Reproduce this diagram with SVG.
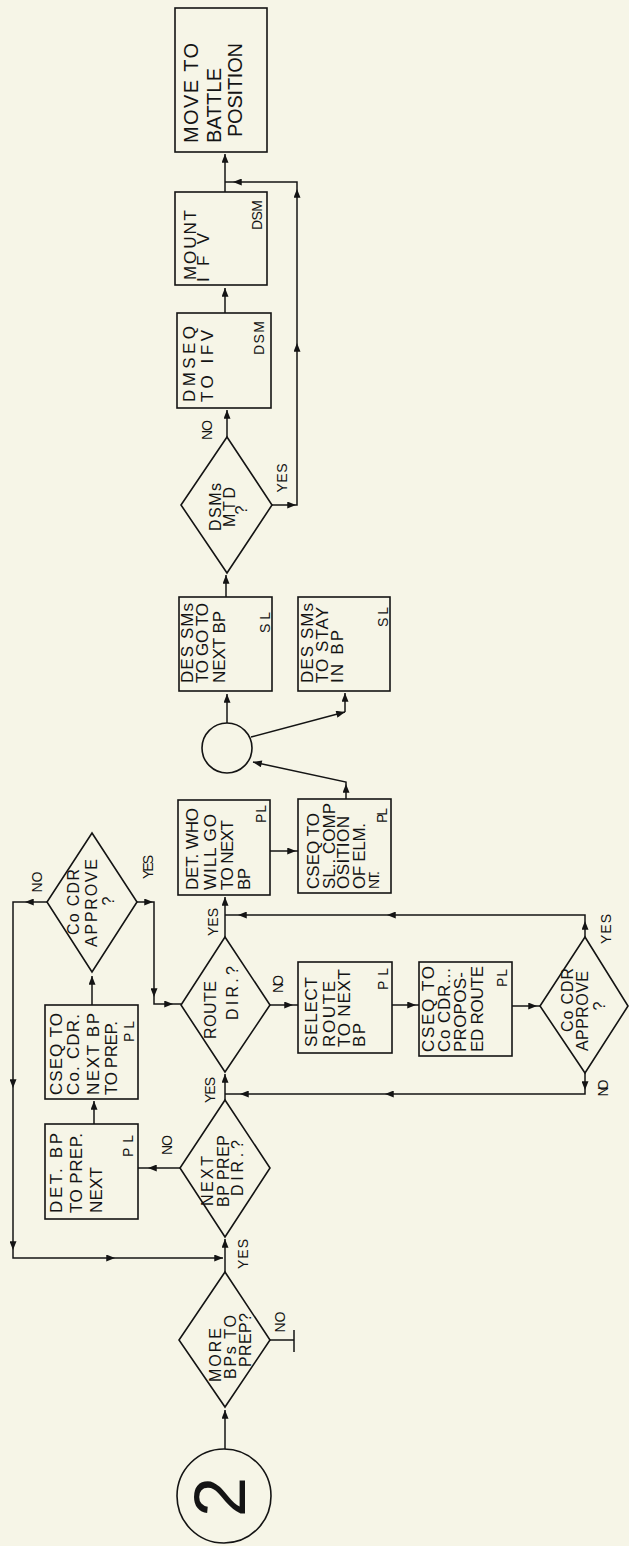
<svg xmlns="http://www.w3.org/2000/svg" width="629" height="1546" viewBox="0 0 629 1546">
<style>
.bg{fill:#f6f5e7}
.box{fill:none;stroke:#141414;stroke-width:1.6}
.ln{fill:none;stroke:#141414;stroke-width:1.5}
.t{font-family:'Liberation Sans',Arial,sans-serif;font-size:17px;fill:#141414}
.big{font-size:20px}
.s{font-size:14px}
.lb{font-size:14px;text-anchor:middle}
.m{text-anchor:middle;font-size:16px}
</style>
<defs>
<marker id="ah" viewBox="0 0 10 8" refX="10" refY="4" markerWidth="10" markerHeight="7" markerUnits="userSpaceOnUse" orient="auto"><path d="M0,0 L10,4 L0,8 z" fill="#141414"/></marker>
</defs>
<rect class="bg" x="0" y="0" width="629" height="1546"/>

<g id="connectors">
<path class="ln" d="M225,1449 V1410" marker-end="url(#ah)"/>
<path class="ln" d="M270,1340 H294 M294,1330 V1352"/>
<path class="ln" d="M225,1272 V1239" marker-end="url(#ah)"/>
<path class="ln" d="M47,902 H25" marker-end="url(#ah)"/>
<path class="ln" d="M25,902 H13 V1088" marker-end="url(#ah)"/>
<path class="ln" d="M13,1088 V1250" marker-end="url(#ah)"/>
<path class="ln" d="M13,1250 V1258 H115" marker-end="url(#ah)"/>
<path class="ln" d="M115,1258 H223" marker-end="url(#ah)"/>
<path class="ln" d="M180,1168 H148" marker-end="url(#ah)"/>
<path class="ln" d="M148,1168 H138"/>
<path class="ln" d="M94,1124 V1101" marker-end="url(#ah)"/>
<path class="ln" d="M92,1005 V976" marker-end="url(#ah)"/>
<path class="ln" d="M137,902 H153" marker-end="url(#ah)"/>
<path class="ln" d="M153,902 H154 V997" marker-end="url(#ah)"/>
<path class="ln" d="M154,997 V1004 H173" marker-end="url(#ah)"/>
<path class="ln" d="M173,1004 H181"/>
<path class="ln" d="M225,1100 V1074" marker-end="url(#ah)"/>
<path class="ln" d="M225,937 V897" marker-end="url(#ah)"/>
<path class="ln" d="M270,1005 H293" marker-end="url(#ah)"/>
<path class="ln" d="M293,1005 H298"/>
<path class="ln" d="M392,1005 H416" marker-end="url(#ah)"/>
<path class="ln" d="M416,1005 H419"/>
<path class="ln" d="M512,1006 H537" marker-end="url(#ah)"/>
<path class="ln" d="M537,1006 H540"/>
<path class="ln" d="M585,937 V921" marker-end="url(#ah)"/>
<path class="ln" d="M585,921 V915 H387" marker-end="url(#ah)"/>
<path class="ln" d="M387,915 H238" marker-end="url(#ah)"/>
<path class="ln" d="M238,915 H225"/>
<path class="ln" d="M585,1073 V1090" marker-end="url(#ah)"/>
<path class="ln" d="M585,1090 V1094 H385" marker-end="url(#ah)"/>
<path class="ln" d="M385,1094 H240" marker-end="url(#ah)"/>
<path class="ln" d="M240,1094 H225"/>
<path class="ln" d="M270,851 H296" marker-end="url(#ah)"/>
<path class="ln" d="M296,851 H298"/>
<path class="ln" d="M346,799 V784" marker-end="url(#ah)"/>
<path class="ln" d="M346,784 V782 L253,762" marker-end="url(#ah)"/>
<path class="ln" d="M251,737 L345,712" marker-end="url(#ah)"/>
<path class="ln" d="M345,712 V693" marker-end="url(#ah)"/>
<path class="ln" d="M227,723 V694" marker-end="url(#ah)"/>
<path class="ln" d="M226,597 V575" marker-end="url(#ah)"/>
<path class="ln" d="M227,437 V410" marker-end="url(#ah)"/>
<path class="ln" d="M272,505 H296" marker-end="url(#ah)"/>
<path class="ln" d="M296,505 H297 V343" marker-end="url(#ah)"/>
<path class="ln" d="M297,343 V189" marker-end="url(#ah)"/>
<path class="ln" d="M297,189 V182 H233" marker-end="url(#ah)"/>
<path class="ln" d="M233,182 H225"/>
<path class="ln" d="M225,313 V288" marker-end="url(#ah)"/>
<path class="ln" d="M225,192 V154" marker-end="url(#ah)"/>
</g>

<g id="labels">
<text class="t lb" transform="translate(285,1322) rotate(-90)" textLength="21">NO</text>
<text class="t lb" transform="translate(248,1254) rotate(-90)" textLength="30">YES</text>
<text class="t lb" transform="translate(172,1145) rotate(-90)" textLength="20">NO</text>
<text class="t lb" transform="translate(215,1090) rotate(-90)" textLength="26">YES</text>
<text class="t lb" transform="translate(42,882) rotate(-90)" textLength="21">NO</text>
<text class="t lb" transform="translate(153,867) rotate(-90)" textLength="24">YES</text>
<text class="t lb" transform="translate(218,922) rotate(-90)" textLength="28">YES</text>
<text class="t lb" transform="translate(283,984) rotate(-90)" textLength="18">NO</text>
<text class="t lb" transform="translate(611,929) rotate(-90)" textLength="30">YES</text>
<text class="t lb" transform="translate(608,1088) rotate(-90)" textLength="17">NO</text>
<text class="t lb" transform="translate(212,430) rotate(-90)" textLength="20">NO</text>
<text class="t lb" transform="translate(287,478) rotate(-90)" textLength="29">YES</text>
</g>

<g id="start">
<circle class="box" cx="224" cy="1496" r="47"/>
<text class="t" style="font-size:72px;text-anchor:middle" transform="translate(245,1497) rotate(-90)">2</text>
</g>

<g id="more-bps">
<polygon class="box" points="225,1272 270,1340 225,1407 179,1340"/>
<text class="t m" transform="translate(221,1355) rotate(-90)" textLength="54">MORE</text>
<text class="t m" transform="translate(236,1347) rotate(-90)" textLength="64">BPs TO</text>
<text class="t m" transform="translate(251,1340) rotate(-90)" textLength="54">PREP?</text>
</g>

<g id="next-bp-dir">
<polygon class="box" points="225,1100 270,1168 225,1237 180,1168"/>
<text class="t m" transform="translate(213,1181) rotate(-90)" textLength="50">NEXT</text>
<text class="t m" transform="translate(229,1171) rotate(-90)" textLength="72">BP PREP</text>
<text class="t m" transform="translate(243,1168) rotate(-90)" textLength="56">DIR.?</text>
</g>

<g id="det-bp">
<rect class="box" x="45" y="1124" width="93" height="95"/>
<text class="t" transform="translate(62,1213) rotate(-90)" textLength="80">DET. BP</text>
<text class="t" transform="translate(82,1213) rotate(-90)" textLength="80">TO PREP.</text>
<text class="t" transform="translate(102,1213) rotate(-90)" textLength="46">NEXT</text>
<text class="t s" transform="translate(133,1157) rotate(-90)" textLength="22">PL</text>
</g>

<g id="cseq-next-bp">
<rect class="box" x="45" y="1005" width="93" height="94"/>
<text class="t" transform="translate(62,1095) rotate(-90)" textLength="82">CSEQ TO</text>
<text class="t" transform="translate(79,1095) rotate(-90)" textLength="81">Co. CDR.</text>
<text class="t" transform="translate(99,1095) rotate(-90)" textLength="82">NEXT BP</text>
<text class="t" transform="translate(117,1095) rotate(-90)" textLength="74">TO PREP.</text>
<text class="t s" transform="translate(134,1042) rotate(-90)" textLength="21">PL</text>
</g>

<g id="coc-approve-1">
<polygon class="box" points="92,833 137,902 92,972 47,902"/>
<text class="t m" transform="translate(79,902) rotate(-90)" textLength="66">Co CDR</text>
<text class="t m" transform="translate(97,903) rotate(-90)" textLength="88">APPROVE</text>
<text class="t m" transform="translate(114,901) rotate(-90)">?</text>
</g>

<g id="route-dir">
<polygon class="box" points="225,937 270,1005 225,1072 181,1005"/>
<text class="t m" transform="translate(216,1010) rotate(-90)" textLength="58">ROUTE</text>
<text class="t m" transform="translate(238,993) rotate(-90)" textLength="54">DIR.?</text>
</g>

<g id="select-route">
<rect class="box" x="298" y="962" width="94" height="91"/>
<text class="t" transform="translate(317,1047) rotate(-90)" textLength="70">SELECT</text>
<text class="t" transform="translate(335,1047) rotate(-90)" textLength="66">ROUTE</text>
<text class="t" transform="translate(350,1047) rotate(-90)" textLength="78">TO NEXT</text>
<text class="t" transform="translate(365,1047) rotate(-90)" textLength="24">BP</text>
<text class="t s" transform="translate(388,990) rotate(-90)" textLength="22">PL</text>
</g>

<g id="cseq-proposed-route">
<rect class="box" x="419" y="962" width="93" height="94"/>
<text class="t" transform="translate(434,1052) rotate(-90)" textLength="86">CSEQ TO</text>
<text class="t" transform="translate(450,1052) rotate(-90)" textLength="84">Co CDR...</text>
<text class="t" transform="translate(466,1052) rotate(-90)" textLength="80">PROPOS-</text>
<text class="t" transform="translate(483,1052) rotate(-90)" textLength="86">ED ROUTE</text>
<text class="t s" transform="translate(507,987) rotate(-90)" textLength="18">PL</text>
</g>

<g id="coc-approve-2">
<polygon class="box" points="585,937 628,1006 585,1073 540,1006"/>
<text class="t m" transform="translate(573,1000) rotate(-90)" textLength="64">Co CDR</text>
<text class="t m" transform="translate(588,1011) rotate(-90)" textLength="80">APPROVE</text>
<text class="t m" transform="translate(605,1006) rotate(-90)">?</text>
</g>

<g id="det-who">
<rect class="box" x="178" y="800" width="92" height="95"/>
<text class="t" transform="translate(198,890) rotate(-90)" textLength="82">DET. WHO</text>
<text class="t" transform="translate(216,890) rotate(-90)" textLength="76">WILL GO</text>
<text class="t" transform="translate(233,890) rotate(-90)" textLength="70">TO NEXT</text>
<text class="t" transform="translate(250,890) rotate(-90)" textLength="22">BP</text>
<text class="t s" transform="translate(266,823) rotate(-90)" textLength="18">PL</text>
</g>

<g id="cseq-composition">
<rect class="box" x="298" y="799" width="93" height="94"/>
<text class="t" transform="translate(319,889) rotate(-90)" textLength="76">CSEQ TO</text>
<text class="t" transform="translate(335,889) rotate(-90)" textLength="86">SL.. COMP</text>
<text class="t" transform="translate(349,889) rotate(-90)" textLength="73">OSITION</text>
<text class="t" transform="translate(365,889) rotate(-90)" textLength="66">OF ELM.</text>
<text class="t s" transform="translate(379,889) rotate(-90)" textLength="18">NT.</text>
<text class="t s" transform="translate(387,823) rotate(-90)" textLength="15">PL</text>
</g>

<g id="connector-circle">
<circle class="box" cx="227" cy="748" r="25"/>
</g>

<g id="des-go">
<rect class="box" x="179" y="597" width="93" height="94"/>
<text class="t" transform="translate(193,683) rotate(-90)" textLength="80">DES SMs</text>
<text class="t" transform="translate(208,683) rotate(-90)" textLength="80">TO GO TO</text>
<text class="t" transform="translate(225,683) rotate(-90)" textLength="72">NEXT BP</text>
<text class="t s" transform="translate(270,633) rotate(-90)" textLength="21">SL</text>
</g>

<g id="des-stay">
<rect class="box" x="298" y="597" width="92" height="94"/>
<text class="t" transform="translate(313,683) rotate(-90)" textLength="80">DES SMs</text>
<text class="t" transform="translate(328,683) rotate(-90)" textLength="76">TO STAY</text>
<text class="t" transform="translate(343,683) rotate(-90)" textLength="53">IN BP</text>
<text class="t s" transform="translate(388,627) rotate(-90)" textLength="20">SL</text>
</g>

<g id="dsms-mtd">
<polygon class="box" points="227,437 272,505 227,573 181,505"/>
<text class="t m" transform="translate(221,507) rotate(-90)" textLength="48">DSMs</text>
<text class="t m" transform="translate(235,507) rotate(-90)" textLength="40">MTD</text>
<text class="t m" transform="translate(247,510) rotate(-90)">?</text>
</g>

<g id="dmseq">
<rect class="box" x="177" y="313" width="94" height="95"/>
<text class="t" transform="translate(195,402) rotate(-90)" textLength="76">DMSEQ</text>
<text class="t" transform="translate(213,402) rotate(-90)" textLength="72">TO IFV</text>
<text class="t s" transform="translate(264,355) rotate(-90)" textLength="34">DSM</text>
</g>

<g id="mount-ifv">
<rect class="box" x="175" y="192" width="92" height="93"/>
<text class="t" transform="translate(196,280) rotate(-90)" textLength="70">MOUNT</text>
<text class="t" transform="translate(209,282) rotate(-90)" textLength="49">IFV</text>
<text class="t s" transform="translate(262,230) rotate(-90)" textLength="30">DSM</text>
</g>

<g id="move-bp">
<rect class="box" x="175" y="8" width="92" height="144"/>
<text class="t big" transform="translate(198,143) rotate(-90)" textLength="100">MOVE TO</text>
<text class="t big" transform="translate(221,143) rotate(-90)" textLength="75">BATTLE</text>
<text class="t big" transform="translate(242,137) rotate(-90)" textLength="94">POSITION</text>
</g>
</svg>
